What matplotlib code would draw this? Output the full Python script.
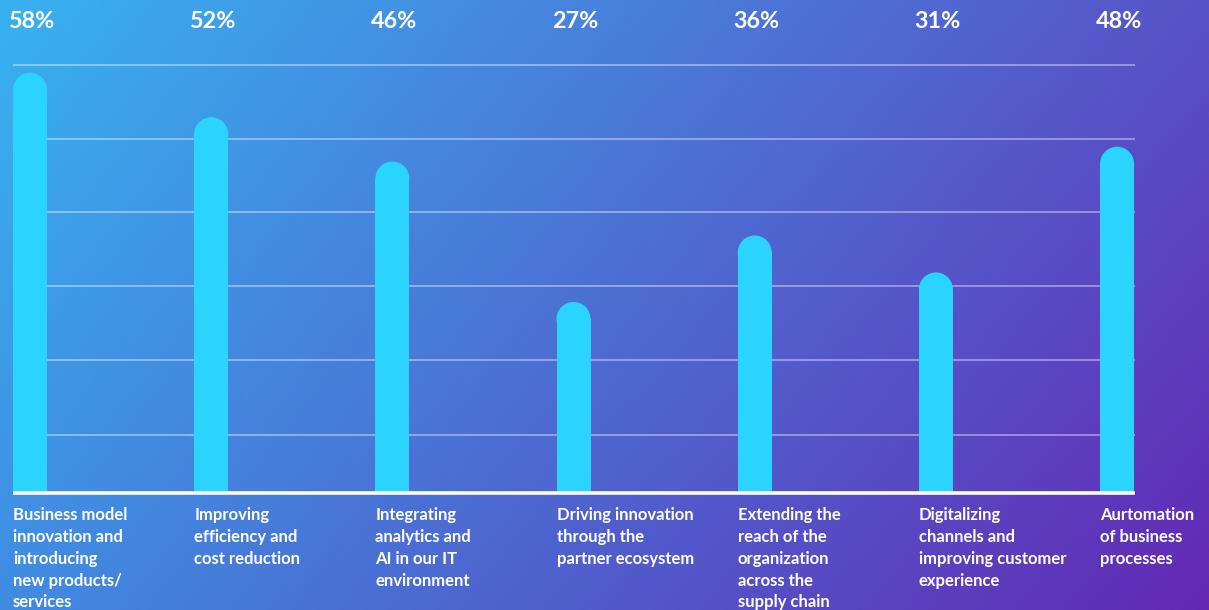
import numpy as np
import matplotlib
matplotlib.use("Agg")
import matplotlib.pyplot as plt
from matplotlib import patches, transforms

categories = [
    "Business model\ninnovation and\nintroducing\nnew products/\nservices",
    "Improving\nefficiency and\ncost reduction",
    "Integrating\nanalytics and\nAI in our IT\nenvironment",
    "Driving innovation\nthrough the\npartner ecosystem",
    "Extending the\nreach of the\norganization\nacross the\nsupply chain",
    "Digitalizing\nchannels and\nimproving customer\nexperience",
    "Aurtomation\nof business\nprocesses",
]
values = [58, 52, 46, 27, 36, 31, 48]
value_labels = ["58%", "52%", "46%", "27%", "36%", "31%", "48%"]
grid_values = [9.0, 19.1, 29.2, 39.2, 49.1, 59.1]

W, H = 1209, 610
fig = plt.figure(figsize=(W / 100, H / 100), dpi=100)

# gradient background (bilinear between corner colours)
c_tl = np.array([56, 178, 240]) / 255
c_tr = np.array([88, 82, 200]) / 255
c_bl = np.array([64, 140, 226]) / 255
c_br = np.array([99, 40, 180]) / 255
xs = np.linspace(0, 1, 300)[None, :, None]
ys = np.linspace(0, 1, 150)[:, None, None]
img = (c_tl * (1 - xs) * (1 - ys) + c_tr * xs * (1 - ys)
       + c_bl * (1 - xs) * ys + c_br * xs * ys)
bg = fig.add_axes([0, 0, 1, 1])
bg.imshow(img, aspect="auto", extent=[0, 1, 0, 1], interpolation="bilinear")
bg.axis("off")

left_px, right_px, base_px, top_px = 13, 1135, 493, 20
ax = fig.add_axes([left_px / W, (H - base_px) / H, (right_px - left_px) / W,
                   (base_px - top_px) / H])
ax.patch.set_alpha(0)
for s in ax.spines.values():
    s.set_visible(False)
ax.set_xticks([])
ax.set_yticks([])

y0 = 1.15
span = 64.0
ax.set_ylim(y0, y0 + span)
ax.set_xlim(-0.0938, 6.099)
ppu = (base_px - top_px) / span
bw = 0.1877
ry = 17 / ppu
bar_color = "#2AD4FE"

for y in grid_values:
    ax.axhline(y, color="white", alpha=0.42, lw=1.3, zorder=1)
ax.axhline(y0, color="white", lw=2.6, zorder=3, clip_on=False,
           solid_capstyle="butt")

for i, v in enumerate(values):
    ax.add_patch(patches.Rectangle((i - bw / 2, 0), bw, v - ry,
                                   facecolor=bar_color, edgecolor="none", zorder=2))
    ax.add_patch(patches.Ellipse((i, v - ry), bw, 2 * ry,
                                 facecolor=bar_color, edgecolor="none", zorder=2))

trans = transforms.blended_transform_factory(ax.transData, fig.transFigure)
font = ["Lato", "DejaVu Sans"]
for i, lab in enumerate(value_labels):
    ax.text(i + 0.01, 1 - 22 / H, lab, transform=trans, ha="center", va="center",
            color="white", fontsize=16.8, fontweight="bold", family=font)
for i, cat in enumerate(categories):
    ax.text(i - bw / 2, 1 - 507 / H, cat, transform=trans, ha="left", va="top",
            color="white", fontsize=12, fontweight="bold", family=font,
            linespacing=1.45)

fig.savefig("out.png", dpi=100)
